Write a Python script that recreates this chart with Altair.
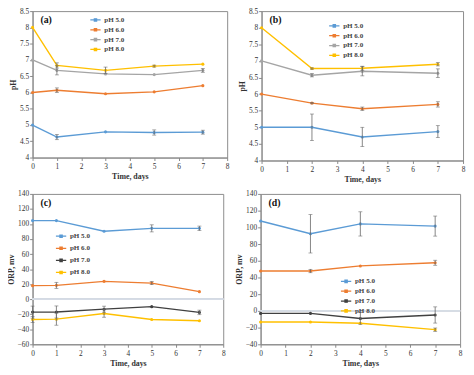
import altair as alt
import pandas as pd

series = ["pH 5.0", "pH 6.0", "pH 7.0", "pH 8.0"]
colors_top = ["#5B9BD5", "#ED7D31", "#A5A5A5", "#FFC000"]
colors_bot = ["#5B9BD5", "#ED7D31", "#404040", "#FFC000"]

# Panel (a): pH vs time
a_days = [0, 1, 3, 5, 7]
a_vals = {
    "pH 5.0": [5.00, 4.63, 4.79, 4.77, 4.78],
    "pH 6.0": [6.00, 6.07, 5.96, 6.02, 6.21],
    "pH 7.0": [7.00, 6.68, 6.57, 6.55, 6.68],
    "pH 8.0": [8.00, 6.83, 6.68, 6.81, 6.87],
}
a_errs = {
    "pH 5.0": [0, 0.08, 0, 0.08, 0.06],
    "pH 6.0": [0, 0.07, 0, 0, 0],
    "pH 7.0": [0, 0.14, 0, 0, 0.06],
    "pH 8.0": [0, 0.08, 0.10, 0.03, 0],
}

# Panel (b): pH vs time
b_days = [0, 2, 4, 7]
b_vals = {
    "pH 5.0": [5.00, 5.00, 4.71, 4.87],
    "pH 6.0": [6.00, 5.73, 5.56, 5.69],
    "pH 7.0": [7.00, 6.57, 6.69, 6.63],
    "pH 8.0": [8.00, 6.77, 6.78, 6.90],
}
b_errs = {
    "pH 5.0": [0, 0.40, 0.29, 0.18],
    "pH 6.0": [0, 0.02, 0.05, 0.08],
    "pH 7.0": [0, 0.05, 0.14, 0.13],
    "pH 8.0": [0, 0.02, 0.06, 0.05],
}

# Panel (c): ORP vs time
c_days = [0, 1, 3, 5, 7]
c_vals = {
    "pH 5.0": [104.5, 104.5, 90.3, 94.2, 94.2],
    "pH 6.0": [18.0, 18.4, 23.7, 21.4, 10.0],
    "pH 7.0": [-17.2, -17.0, -13.3, -9.9, -17.6],
    "pH 8.0": [-27.0, -26.6, -19.0, -27.0, -28.7],
}
c_errs = {
    "pH 5.0": [0, 0, 0, 4.7, 3.0],
    "pH 6.0": [0, 4.0, 0, 2.0, 0],
    "pH 7.0": [8.0, 8.0, 4.0, 0, 3.0],
    "pH 8.0": [4.0, 8.0, 5.0, 0, 0],
}

# Panel (d): ORP vs time
d_days = [0, 2, 4, 7]
d_vals = {
    "pH 5.0": [107.6, 92.3, 104.1, 101.5],
    "pH 6.0": [47.7, 47.7, 53.8, 57.6],
    "pH 7.0": [-3.0, -3.0, -9.1, -4.9],
    "pH 8.0": [-13.3, -13.3, -14.8, -22.5],
}
d_errs = {
    "pH 5.0": [0, 23.0, 14.5, 12.0],
    "pH 6.0": [0, 2.0, 0, 3.0],
    "pH 7.0": [0, 0, 7.0, 9.7],
    "pH 8.0": [0, 0, 0, 2.0],
}

FONT = "Liberation Serif"


def make_df(days, vals, errs):
    rows = []
    for s in series:
        for d, v, e in zip(days, vals[s], errs[s]):
            rows.append({"day": d, "val": v, "series": s, "lo": v - e, "hi": v + e, "err": e})
    return pd.DataFrame(rows)


def panel(days, vals, errs, colors, ydom, ystep, ytitle, tag, lx, ly, rowpad, w, h, zero):
    df = make_df(days, vals, errs)
    yvals = []
    t = ydom[0]
    while t <= ydom[1] + 1e-9:
        yvals.append(round(t, 2))
        t += ystep
    xenc = alt.X("day:Q", scale=alt.Scale(domain=[0, 8], nice=False, zero=False),
                 axis=alt.Axis(values=list(range(9)), tickCount=30, title="Time, days", format="d",
                               labelOverlap=False, labelFlush=False))
    yenc = alt.Y("val:Q", scale=alt.Scale(domain=ydom, nice=False, zero=False),
                 axis=alt.Axis(values=yvals, tickCount=30, title=ytitle, format=".2~f",
                               labelOverlap=False, labelFlush=False))
    color = alt.Color("series:N", scale=alt.Scale(domain=series, range=colors),
                      legend=alt.Legend(title=None, orient="none", legendX=lx, legendY=ly,
                                        symbolType="M-1,0H1M-0.22,-0.22H0.22V0.22H-0.22Z",
                                        symbolSize=110, symbolStrokeWidth=1.3,
                                        labelFont=FONT, labelFontWeight="bold",
                                        labelFontSize=7.2, rowPadding=rowpad,
                                        labelColor="#444", labelOffset=3))
    base = alt.Chart(df)
    layers = []
    if zero:
        layers.append(
            base.mark_rule(color="#d6dce4", strokeWidth=1).encode(y=alt.datum(0))
        )
    lines = base.mark_line(strokeWidth=1.4, point=alt.OverlayMarkDef(filled=True, size=10)).encode(
        x=xenc, y=yenc, color=color, order="day:Q")
    ebdf = base.transform_filter("datum.err > 0")
    rules = ebdf.mark_rule(color="#666", strokeWidth=0.8).encode(
        x="day:Q", y="lo:Q", y2="hi:Q")
    caps_lo = ebdf.mark_tick(color="#666", orient="horizontal", size=4, thickness=0.8).encode(
        x="day:Q", y="lo:Q")
    caps_hi = ebdf.mark_tick(color="#666", orient="horizontal", size=4, thickness=0.8).encode(
        x="day:Q", y="hi:Q")
    label = alt.Chart(pd.DataFrame({"t": [tag]})).mark_text(
        font=FONT, fontWeight="bold", fontSize=10, align="left", baseline="top", color="#111"
    ).encode(x=alt.value(8), y=alt.value(4), text="t:N")
    layers += [lines, rules, caps_lo, caps_hi, label]
    return alt.layer(*layers).properties(width=w, height=h)


pa = panel(a_days, a_vals, a_errs, colors_top, [4, 8.5], 0.5, "pH", "(a)", 58, 3, 0.0, 198, 149, False)
pb = panel(b_days, b_vals, b_errs, colors_top, [4, 8.5], 0.5, "pH", "(b)", 68, 9, 0.0, 205, 152, False)
pc = panel(c_days, c_vals, c_errs, colors_bot, [-60, 140], 20, "ORP, mv", "(c)", 23, 37, 2.3, 194, 153, True)
pd_ = panel(d_days, d_vals, d_errs, colors_bot, [-40, 140], 20, "ORP, mv", "(d)", 81, 83, 0.0, 203, 153, True)

top = alt.hconcat(pa, pb, spacing=8).resolve_scale(color="independent", x="independent", y="independent")
bot = alt.hconcat(pc, pd_, spacing=8).resolve_scale(color="independent", x="independent", y="independent")

chart = alt.vconcat(top, bot, spacing=5).resolve_scale(
    color="independent", x="independent", y="independent"
).properties(padding={"top": -5, "left": -2, "right": 0, "bottom": 0}).configure_view(
    stroke="#8c8c8c", strokeWidth=1
).configure_axis(
    labelFont=FONT, labelFontSize=7.5, labelColor="#333",
    titleFont=FONT, titleFontSize=8, titleFontWeight="bold", titleColor="#333",
    grid=False, domainColor="#888", tickColor="#888", tickSize=3,
    labelPadding=2, titlePadding=3
).configure_axisY(labelPadding=1, titlePadding=2)

chart.save("out.html", embed_options={"renderer": "svg", "actions": False})
